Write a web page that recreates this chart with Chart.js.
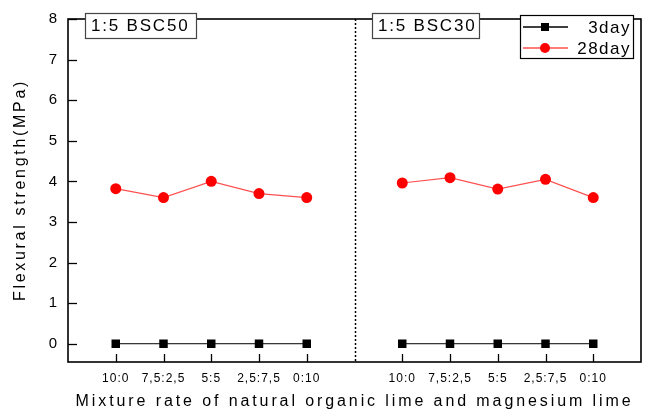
<!DOCTYPE html>
<html><head><meta charset="utf-8">
<script src="https://cdn.jsdelivr.net/npm/chart.js@4"></script>
<style>html,body{margin:0;padding:0;background:#fff}#c{display:block}</style>
</head><body>
<canvas id="c" width="654" height="413"></canvas>
<script>
const categories = ['10:0','7.5:2.5','5:5','2.5:7.5','0:10'];
const tickLabels = ['10:0','7,5:2,5','5:5','2,5:7,5','0:10'];
const groupNames = ['1:5 BSC50','1:5 BSC30'];
const bsc50_3day = [0,0,0,0,0];
const bsc50_28day = [3.82,3.6,4.0,3.7,3.6];
const bsc30_3day = [0,0,0,0,0];
const bsc30_28day = [3.96,4.09,3.81,4.05,3.6];
const yTicks = [0,1,2,3,4,5,6,7,8];
const xTitle = 'Mixture rate of natural organic lime and magnesium lime';
const yTitle = 'Flexural strength(MPa)';

// positions on a linear x axis: group 1 at 1..5, divider at 6, group 2 at 7..11
const xPos1 = categories.map((c,i)=>i+1);
const xPos2 = categories.map((c,i)=>i+7);
const tickMap = {};
xPos1.forEach((p,i)=>tickMap[p]=tickLabels[i]);
xPos2.forEach((p,i)=>tickMap[p]=tickLabels[i]);

const font = "'Liberation Sans', Arial, sans-serif";

const pts = (xs, ys) => xs.map((x,i)=>({x, y: ys[i]}));

const threeDay = [...pts(xPos1,bsc50_3day), {x:6,y:null}, ...pts(xPos2,bsc30_3day)];
const twentyEight = [...pts(xPos1,bsc50_28day), {x:6,y:null}, ...pts(xPos2,bsc30_28day)];

const spacing = {
  id:'spacing',
  beforeDraw(chart){ chart.ctx.letterSpacing='1px'; }
};

const decor = {
  id:'decor',
  afterDraw(chart){
    const {ctx, chartArea:a, scales:{x,y}} = chart;
    ctx.save();
    // frame
    ctx.strokeStyle='#000'; ctx.lineWidth=1.6;
    ctx.strokeRect(a.left, a.top, a.right-a.left, a.bottom-a.top);
    // inward ticks on y
    ctx.lineWidth=1.3;
    yTicks.forEach(v=>{const py=Math.round(y.getPixelForValue(v))+0.5; ctx.beginPath(); ctx.moveTo(a.left,py); ctx.lineTo(a.left+9,py); ctx.stroke();});
    // inward ticks on x
    Object.keys(tickMap).forEach(k=>{const px=Math.round(x.getPixelForValue(+k))+0.5; ctx.beginPath(); ctx.moveTo(px,a.bottom); ctx.lineTo(px,a.bottom-8); ctx.stroke();});
    // dotted divider
    const dx = Math.round(x.getPixelForValue(6))+0.5;
    ctx.setLineDash([2,2]); ctx.lineWidth=1.5;
    ctx.beginPath(); ctx.moveTo(dx,a.top); ctx.lineTo(dx,a.bottom); ctx.stroke();
    ctx.setLineDash([]);
    // axis titles
    ctx.fillStyle='#000'; ctx.textBaseline='middle'; ctx.textAlign='center';
    ctx.font = "16px "+font; ctx.letterSpacing='2.9px';
    ctx.fillText(xTitle, (a.left+a.right)/2, 402);
    ctx.save();
    ctx.translate(21, 190);
    ctx.rotate(-Math.PI/2);
    ctx.letterSpacing='2.7px';
    ctx.fillText(yTitle, 0, 0);
    ctx.restore();
    // group label boxes
    ctx.font = "17px "+font; ctx.letterSpacing='1.8px';
    ctx.textBaseline='middle'; ctx.textAlign='left';
    const boxes = [[85,13,111,25],[372,13,107,25]];
    groupNames.forEach((g,i)=>{
      const [bx,by,bw,bh]=boxes[i];
      ctx.fillStyle='#fff'; ctx.fillRect(bx,by,bw,bh);
      ctx.strokeStyle='#444'; ctx.lineWidth=1.2; ctx.strokeRect(bx+0.5,by+0.5,bw,bh);
      ctx.fillStyle='#000'; ctx.fillText(g,bx+6,by+bh/2+1);
    });
    // legend
    ctx.letterSpacing='1.5px';
    const lx=520, ly=15, lw=113, lh=43;
    ctx.fillStyle='#fff'; ctx.fillRect(lx,ly,lw,lh);
    ctx.strokeStyle='#000'; ctx.lineWidth=1.2; ctx.strokeRect(lx+0.5,ly+0.5,lw,lh);
    chart.data.datasets.forEach((ds,i)=>{
      const ry = ly+12+i*21;
      ctx.strokeStyle=ds.borderColor; ctx.lineWidth=1.3;
      ctx.beginPath(); ctx.moveTo(lx+3,ry); ctx.lineTo(lx+48,ry); ctx.stroke();
      ctx.fillStyle=ds.pointBackgroundColor;
      if(ds.pointStyle==='rect'){ctx.fillRect(lx+21,ry-4,8,8);} else {ctx.beginPath(); ctx.arc(lx+25,ry,5,0,Math.PI*2); ctx.fill();}
      ctx.fillStyle='#000'; ctx.textAlign='right'; ctx.fillText(ds.label, lx+lw-2, ry+1);
    });
    ctx.restore();
  }
};

new Chart(document.getElementById('c'),{
  type:'line',
  data:{datasets:[
    {label:'3day', data:threeDay, borderColor:'#000', borderWidth:1, pointStyle:'rect', pointRadius:6, pointBackgroundColor:'#000', pointBorderColor:'#000', pointBorderWidth:0, spanGaps:false},
    {label:'28day', data:twentyEight, borderColor:'#ff5050', borderWidth:1.2, pointStyle:'circle', pointRadius:5.5, pointBackgroundColor:'#ff0000', pointBorderColor:'#ff0000', pointBorderWidth:0, spanGaps:false}
  ]},
  options:{
    responsive:false, animation:false, devicePixelRatio:1,
    layout:{padding:{top:10,right:13,left:0,bottom:0}},
    plugins:{legend:{display:false}, tooltip:{enabled:false}},
    scales:{
      x:{type:'linear', min:0, max:12,
        afterBuildTicks(s){ s.ticks = Object.keys(tickMap).map(k=>({value:+k})); },
        afterFit(s){ s.height=51; },
        grid:{display:false, drawTicks:false}, border:{display:false},
        ticks:{padding:9, autoSkip:false, maxRotation:0, color:'#000', font:{family:font,size:12}, callback:v=>tickMap[v]??''},
        title:{display:false}
      },
      y:{min:-0.45, max:8,
        afterBuildTicks(s){ s.ticks = yTicks.map(v=>({value:v})); },
        afterFit(s){ s.width=68; },
        grid:{display:false, drawTicks:false}, border:{display:false},
        ticks:{padding:10, color:'#000', font:{family:font,size:15}},
        title:{display:false}
      }
    }
  },
  plugins:[spacing, decor]
});
</script>
</body></html>
